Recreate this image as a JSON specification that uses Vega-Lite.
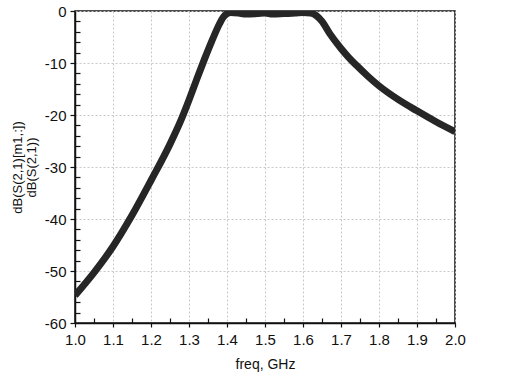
{
  "$schema": "https://vega.github.io/schema/vega-lite/v6.json",
  "width": 380,
  "height": 312,
  "autosize": "none",
  "padding": {"left": 75, "top": 11, "right": 63, "bottom": 58},
  "background": "white",
  "config": {
    "view": {"stroke": "#111", "strokeWidth": 1.5},
    "font": "Liberation Sans"
  },
  "data": {"values": [
    {"freq": 1.00, "db": -54.7},
    {"freq": 1.05, "db": -50.3},
    {"freq": 1.10, "db": -45.3},
    {"freq": 1.15, "db": -39.3},
    {"freq": 1.20, "db": -32.6},
    {"freq": 1.25, "db": -25.6},
    {"freq": 1.28, "db": -20.8},
    {"freq": 1.30, "db": -17.1},
    {"freq": 1.32, "db": -13.2},
    {"freq": 1.34, "db": -9.4},
    {"freq": 1.36, "db": -5.8},
    {"freq": 1.38, "db": -2.5},
    {"freq": 1.39, "db": -1.2},
    {"freq": 1.40, "db": -0.5},
    {"freq": 1.41, "db": -0.3},
    {"freq": 1.43, "db": -0.4},
    {"freq": 1.45, "db": -0.6},
    {"freq": 1.48, "db": -0.5},
    {"freq": 1.50, "db": -0.4},
    {"freq": 1.52, "db": -0.6},
    {"freq": 1.55, "db": -0.5},
    {"freq": 1.58, "db": -0.4},
    {"freq": 1.60, "db": -0.3},
    {"freq": 1.62, "db": -0.4},
    {"freq": 1.635, "db": -0.9},
    {"freq": 1.65, "db": -2.0},
    {"freq": 1.67, "db": -4.3},
    {"freq": 1.70, "db": -7.2},
    {"freq": 1.72, "db": -8.9},
    {"freq": 1.74, "db": -10.4},
    {"freq": 1.77, "db": -12.5},
    {"freq": 1.80, "db": -14.4},
    {"freq": 1.85, "db": -17.0},
    {"freq": 1.90, "db": -19.2},
    {"freq": 1.95, "db": -21.3},
    {"freq": 2.00, "db": -23.2}
  ]},
  "resolve": {"scale": {"x": "independent", "y": "independent"}, "axis": {"x": "independent", "y": "independent"}},
  "layer": [
    {
      "mark": {"type": "line", "opacity": 0},
      "encoding": {
        "x": {"field": "freq", "type": "quantitative", "scale": {"domain": [1, 2], "nice": false, "zero": false},
          "axis": {"orient": "bottom", "values": [1.05, 1.15, 1.25, 1.35, 1.45, 1.55, 1.65, 1.75, 1.85, 1.95], "labels": false, "domain": false, "grid": false, "tickSize": -5, "tickColor": "#111", "tickWidth": 1.2, "title": null}},
        "y": {"field": "db", "type": "quantitative", "scale": {"domain": [-60, 0], "nice": false, "zero": false},
          "axis": {"orient": "left", "values": [-58, -56, -54, -52, -48, -46, -44, -42, -38, -36, -34, -32, -28, -26, -24, -22, -18, -16, -14, -12, -8, -6, -4, -2], "labels": false, "domain": false, "grid": false, "tickSize": -5, "tickColor": "#111", "tickWidth": 1.2, "title": null}}
      }
    },
    {
      "mark": {"type": "line", "color": "#262626", "strokeWidth": 7, "interpolate": "monotone", "clip": true},
      "encoding": {
        "x": {"field": "freq", "type": "quantitative", "scale": {"domain": [1, 2], "nice": false, "zero": false},
          "axis": {"orient": "bottom", "values": [1.0, 1.1, 1.2, 1.3, 1.4, 1.5, 1.6, 1.7, 1.8, 1.9, 2.0], "labelExpr": "format(datum.value, '.1f')", "labelFlush": false, "labelOverlap": false, "domainColor": "#111", "domainWidth": 1.5, "tickColor": "#111", "tickSize": 4, "tickWidth": 1.2, "labelFontSize": 15, "labelColor": "#111", "labelPadding": 5, "grid": true, "gridColor": "#c8c8c8", "gridDash": [2, 2], "gridWidth": 1, "title": "freq, GHz", "titleFontSize": 14, "titleFontWeight": "normal", "titleColor": "#111", "titlePadding": 10}},
        "y": {"field": "db", "type": "quantitative", "scale": {"domain": [-60, 0], "nice": false, "zero": false},
          "axis": {"orient": "left", "values": [-60, -50, -40, -30, -20, -10, 0], "labelExpr": "toString(datum.value)", "labelFlush": false, "labelOverlap": false, "domainColor": "#111", "domainWidth": 1.5, "tickColor": "#111", "tickSize": 5, "tickWidth": 1.2, "labelFontSize": 15, "labelColor": "#111", "labelPadding": 4, "grid": true, "gridColor": "#c8c8c8", "gridDash": [2, 2], "gridWidth": 1, "title": ["dB(S(2,1)[m1,:])", "dB(S(2,1))"], "titleFontSize": 13, "titleFontWeight": "normal", "titleColor": "#111", "titleLineHeight": 14, "titlePadding": 6}}
      }
    }
  ]
}
